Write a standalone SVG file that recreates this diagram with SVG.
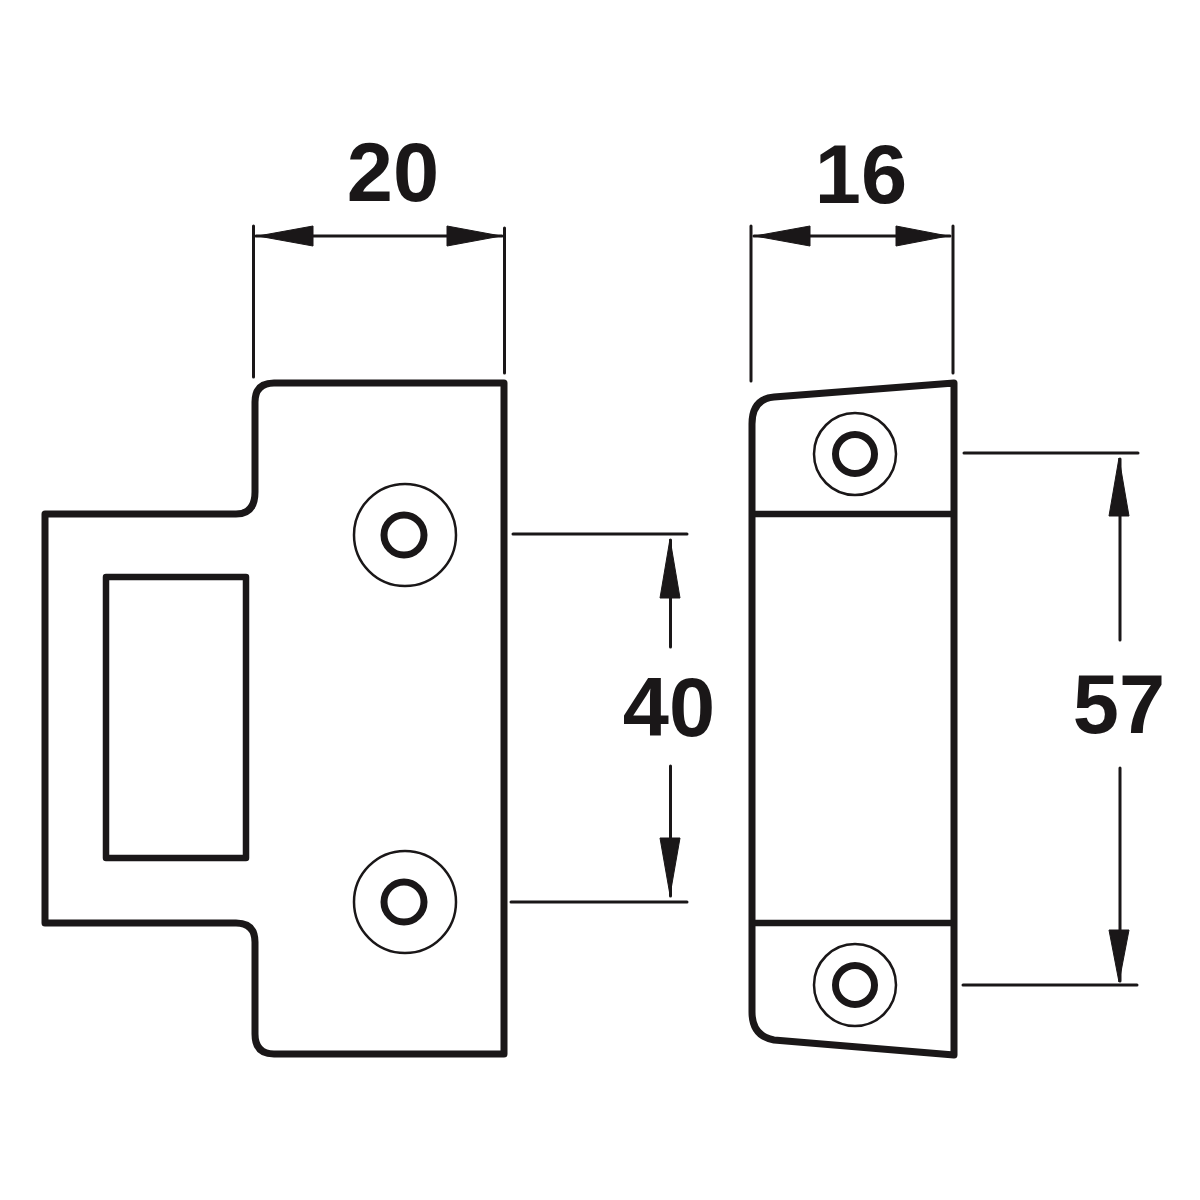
<svg xmlns="http://www.w3.org/2000/svg" width="1200" height="1200" viewBox="0 0 1200 1200">
<defs>
<style>
.o{fill:none;stroke:#1a1718;stroke-width:7;stroke-linejoin:round}
.i{fill:none;stroke:#1a1718;stroke-width:6.5;stroke-linejoin:round}
.m{fill:none;stroke:#1a1718;stroke-width:2.5}
.s{fill:none;stroke:#1a1718;stroke-width:7}
.d{fill:none;stroke:#1a1718;stroke-width:3;stroke-linecap:round}
.a{fill:#1a1718;stroke:#1a1718;stroke-width:1;stroke-linejoin:round}
.t{font-family:"Liberation Sans",Arial,sans-serif;font-weight:700;font-size:83px;fill:#1a1718;text-anchor:middle}
</style>
</defs>
<rect width="1200" height="1200" fill="#fff"/>
<g id="strike-plate">
<path class="o" d="M504 383H274Q255 383 255 402V492Q255 514 236 514H45V923H236Q255 923 255 942V1034Q255 1054 274 1054H504Z"/>
<rect class="i" x="106" y="577" width="140" height="281"/>
<g id="screw-1"><circle class="m" cx="405" cy="535" r="51"/><circle class="s" cx="404" cy="535" r="20"/></g>
<g id="screw-2"><circle class="m" cx="405" cy="902" r="51"/><circle class="s" cx="404" cy="902" r="20"/></g>
</g>
<g id="side-view">
<path class="o" d="M954 383L774 397Q752 399 752 424V1012Q752 1036 774 1040L954 1055Z"/>
<path class="i" d="M752 514H954M752 923H954"/>
<g id="screw-3"><circle class="m" cx="855" cy="454" r="41"/><circle class="s" cx="855" cy="454" r="19.5"/></g>
<g id="screw-4"><circle class="m" cx="855" cy="985" r="41"/><circle class="s" cx="855" cy="985" r="19.5"/></g>
</g>
<g id="connectors">
<path class="d" d="M253.500 226V377M504.500 228V373M751 226V381M953 226V373"/>
<path class="d" d="M256 236H502M754 236H950"/>
<path class="a" d="M258 236L313 226V246ZM501 236L447 226V246ZM755 236L810 226V246ZM948 236L896 226V246Z"/>
<path class="d" d="M513 534H687M511 902H687M964 453H1138M963 985H1137"/>
<path class="d" d="M670.500 540V647M670.500 766V896M1120 459V640M1120 768V981"/>
<path class="a" d="M670 539L660 598H680ZM670 895L660 838H680ZM1119 458L1109 516H1129ZM1119 982L1109 930H1129Z"/>
</g>
<g id="labels">
<text class="t" x="393" y="201">20</text>
<text class="t" x="861" y="203">16</text>
<text class="t" x="669" y="736">40</text>
<text class="t" x="1119" y="733">57</text>
</g>
</svg>
